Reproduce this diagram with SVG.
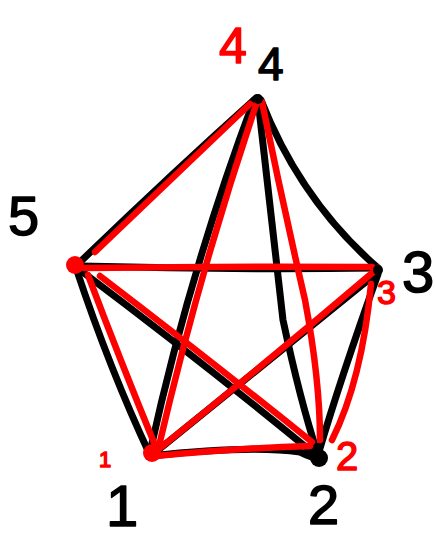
<svg xmlns="http://www.w3.org/2000/svg" width="436" height="538" viewBox="0 0 436 538">
<style>
.b{fill:none;stroke:#000;stroke-width:7;stroke-linecap:round;stroke-linejoin:round}
.r{fill:none;stroke:#f00;stroke-width:6.5;stroke-linecap:round;stroke-linejoin:round}
.lb{font-family:"Liberation Sans",Arial,sans-serif;fill:#000;stroke:#000;stroke-width:1.5;stroke-linejoin:round}
.lr{font-family:"Liberation Sans",Arial,sans-serif;fill:#f00;stroke:#f00;stroke-width:1.5;stroke-linejoin:round}
</style>
<rect width="436" height="538" fill="#fff"/>
<g id="connectors">
<path class="b" d="M256,98 Q170,175 78,264"/>
<path class="b" d="M261,100 Q300,200 378,268"/>
<path class="b" d="M80,266 Q230,270 377,268"/>
<path class="b" d="M76,268 Q110,370 150,455"/>
<path class="b" d="M80,270 Q200,360 318,457"/>
<path class="b" d="M152,455 Q270,360 378,272"/>
<path class="b" d="M150,456 Q250,445 300,452 Q312,458 318,458"/>
<path class="b" d="M378,274 Q340,380 318,455"/>
<path class="b" d="M254,100 Q190,270 150,452"/>
<path class="b" d="M258,100 Q268,190 283,320 Q300,400 318,455"/>
<path class="r" d="M250,104 Q170,180 95,252"/>
<path class="r" d="M84,268 Q230,266 372,267"/>
<path class="r" d="M88,275 Q120,360 157,450"/>
<path class="r" d="M100,276 Q210,360 312,442"/>
<path class="r" d="M154,453 Q270,360 378,268"/>
<path class="r" d="M156,456 Q240,448 310,446"/>
<path class="r" d="M371,284 Q362,380 332,440"/>
<path class="r" d="M257,102 Q200,270 158,450"/>
<path class="r" d="M262,102 Q282,200 305,300 Q320,380 320,440"/>
</g>
<g id="n4"><circle cx="258" cy="99" r="5"/><text class="lb" x="258" y="80" font-size="46">4</text><text class="lr" x="219" y="63" font-size="50">4</text></g>
<g id="n5"><circle cx="75" cy="265" r="9" fill="#f00"/><text class="lb" x="8" y="235" font-size="56">5</text></g>
<g id="n3"><circle cx="378" cy="270" r="5"/><text class="lb" x="402" y="292" font-size="58">3</text><text class="lr" x="377" y="304" font-size="34">3</text></g>
<g id="n1"><circle cx="152" cy="453" r="9" fill="#f00"/><text class="lb" x="106" y="526" font-size="58">1</text><text class="lr" x="99" y="467" font-size="22">1</text></g>
<g id="n2"><circle cx="319" cy="458" r="9"/><text class="lb" x="308" y="524" font-size="56">2</text><text class="lr" x="336" y="470" font-size="40">2</text></g>
</svg>
